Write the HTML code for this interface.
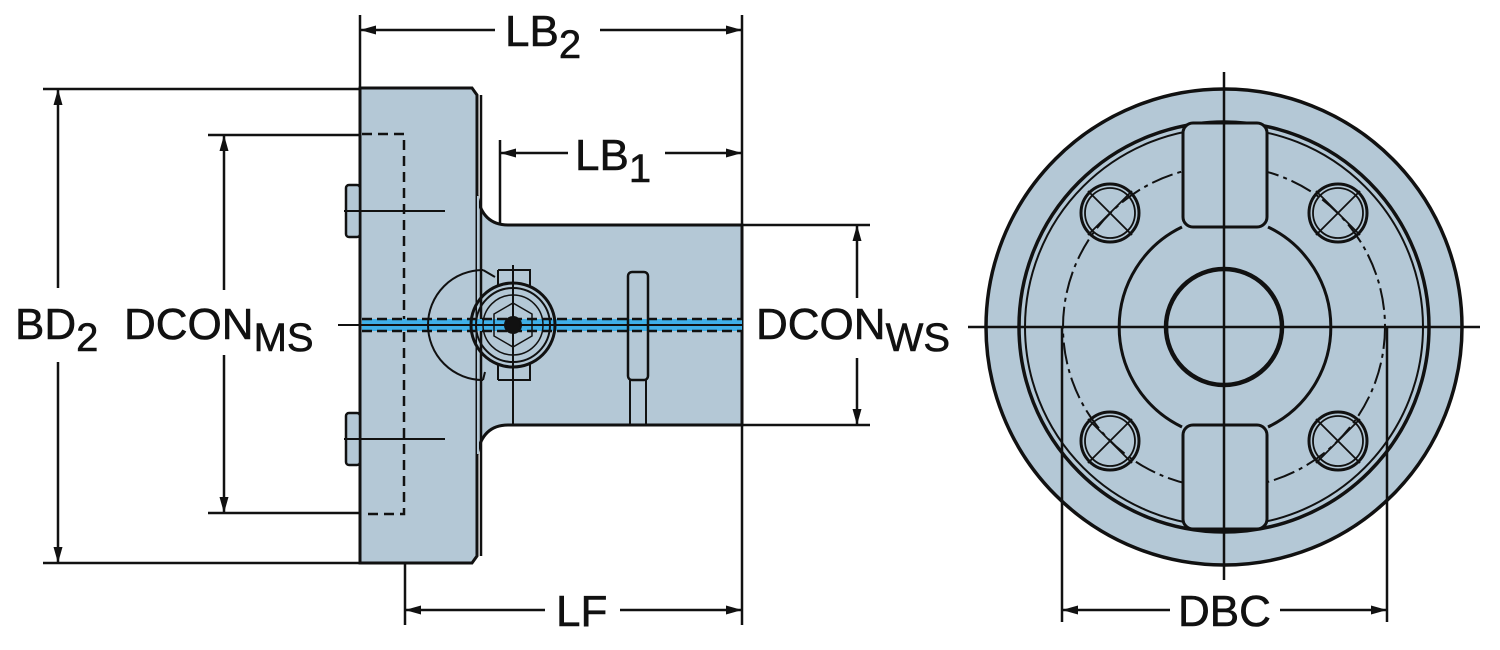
<!DOCTYPE html>
<html><head><meta charset="utf-8"><style>html,body{margin:0;padding:0;background:#fff}svg{display:block}</style></head>
<body>
<svg width="1500" height="650" viewBox="0 0 1500 650" xmlns="http://www.w3.org/2000/svg" font-family="Liberation Sans, sans-serif">
<defs>
<marker id="a" markerWidth="16" markerHeight="9" refX="16" refY="4.5" orient="auto-start-reverse" markerUnits="userSpaceOnUse"><path d="M0,0 L16,4.5 L0,9 z" fill="#111"/></marker>
</defs>
<g stroke="#111" stroke-width="2.5" fill="none">
<line x1="360" y1="15" x2="360" y2="88"/>
<line x1="742" y1="15" x2="742" y2="625"/>
<line x1="43" y1="89" x2="360" y2="89"/>
<line x1="43" y1="563" x2="360" y2="563"/>
<line x1="208" y1="135" x2="360" y2="135"/>
<line x1="208" y1="513" x2="360" y2="513"/>
<line x1="500" y1="140" x2="500" y2="225"/>
<line x1="742" y1="225" x2="870" y2="225"/>
<line x1="742" y1="425" x2="870" y2="425"/>
<line x1="405" y1="520" x2="405" y2="625"/>
</g>
<path d="M360,88 L472,88 L477,95 L477,556 L472,563 L360,563 Z" fill="#b4c8d6" stroke="#111" stroke-width="3"/>
<path d="M477,195 Q482,225 508,225 L742,225 L742,425 L508,425 Q482,425 477,455 Z" fill="#b4c8d6" stroke="#111" stroke-width="3"/>
<line x1="478" y1="196" x2="478" y2="454" stroke="#b4c8d6" stroke-width="2"/>
<line x1="481" y1="95" x2="481" y2="556" stroke="#111" stroke-width="2.5"/>
<rect x="346" y="185" width="14" height="52" rx="3" fill="#b4c8d6" stroke="#111" stroke-width="2.5"/>
<rect x="346" y="413" width="14" height="52" rx="3" fill="#b4c8d6" stroke="#111" stroke-width="2.5"/>
<line x1="344" y1="211" x2="445" y2="211" stroke="#111" stroke-width="2"/>
<line x1="344" y1="439" x2="445" y2="439" stroke="#111" stroke-width="2"/>
<path d="M362,134 L404,134 L404,514 L362,514" fill="none" stroke="#111" stroke-width="2.5" stroke-dasharray="10,6"/>
<rect x="362" y="319" width="380" height="12" fill="#3fb0e8"/>
<line x1="362" y1="319" x2="742" y2="319" stroke="#111" stroke-width="2.5" stroke-dasharray="10,5"/>
<line x1="362" y1="331" x2="742" y2="331" stroke="#111" stroke-width="2.5" stroke-dasharray="10,5"/>
<line x1="338" y1="325" x2="742" y2="325" stroke="#111" stroke-width="2"/>
<g fill="none" stroke="#111" stroke-width="2">
<path d="M483,270 A55,55 0 0 0 483,380" stroke-width="2"/>
<path d="M483,270 L495,277 M483,380 L485,372" stroke-width="2"/>
<circle cx="513" cy="325" r="42" stroke-width="3"/>
<circle cx="513" cy="325" r="37"/>
<circle cx="513" cy="325" r="30" stroke-width="1.5"/>
<polygon points="513,303 532,314 532,336 513,347 494,336 494,314" stroke-width="1.5"/>
<circle cx="513" cy="325" r="8" fill="#111"/>
<path d="M498,270 L530,270 L530,286 M498,270 L498,286" stroke-width="2"/>
<path d="M498,380 L530,380 L530,364 M498,380 L498,364" stroke-width="2"/>
<line x1="513" y1="265" x2="513" y2="425" stroke-width="2"/>
<rect x="628" y="272" width="20" height="108" rx="4" stroke-width="2.5"/>
<line x1="630" y1="380" x2="630" y2="425"/>
<line x1="646" y1="380" x2="646" y2="425"/>
</g>
<g stroke="#111" stroke-width="2.5">
<line x1="360" y1="30" x2="495" y2="30" marker-start="url(#a)"/>
<line x1="600" y1="30" x2="742" y2="30" marker-end="url(#a)"/>
<line x1="500" y1="153" x2="568" y2="153" marker-start="url(#a)"/>
<line x1="665" y1="153" x2="742" y2="153" marker-end="url(#a)"/>
<line x1="58" y1="89" x2="58" y2="288" marker-start="url(#a)"/>
<line x1="58" y1="362" x2="58" y2="563" marker-end="url(#a)"/>
<line x1="224" y1="135" x2="224" y2="290" marker-start="url(#a)"/>
<line x1="224" y1="355" x2="224" y2="513" marker-end="url(#a)"/>
<line x1="857" y1="225" x2="857" y2="298" marker-start="url(#a)"/>
<line x1="857" y1="358" x2="857" y2="425" marker-end="url(#a)"/>
<line x1="405" y1="610" x2="545" y2="610" marker-start="url(#a)"/>
<line x1="620" y1="610" x2="742" y2="610" marker-end="url(#a)"/>
<line x1="1062" y1="610" x2="1170" y2="610" marker-start="url(#a)"/>
<line x1="1280" y1="610" x2="1387" y2="610" marker-end="url(#a)"/>
</g>
<g fill="#111" font-size="44" stroke="#111" stroke-width="0.6">
<text x="505" y="46">LB<tspan font-size="40" dy="12">2</tspan></text>
<text x="575" y="170">LB<tspan font-size="40" dy="12">1</tspan></text>
<text x="15" y="339">BD<tspan font-size="40" dy="12">2</tspan></text>
<text x="124" y="339">DCON<tspan font-size="40" dy="12">MS</tspan></text>
<text x="756" y="339">DCON<tspan font-size="40" dy="12">WS</tspan></text>
<text x="556" y="626">LF</text>
<text x="1178" y="626">DBC</text>
</g>
<g stroke="#111" fill="none">
<circle cx="1224" cy="327" r="238" fill="#b4c8d6" stroke-width="3.5"/>
<circle cx="1224" cy="327" r="205" stroke-width="3.5"/>
<circle cx="1224" cy="327" r="199" stroke-width="2"/>
<circle cx="1224" cy="327" r="161" stroke-width="2" stroke-dasharray="22,5,4,5"/>
<path d="M1182,227 A111,111 0 0 0 1182,427 M1268,227 A111,111 0 0 1 1268,427" stroke-width="3"/>
<circle cx="1224" cy="327" r="58" stroke-width="4.5"/>
<rect x="1183" y="123" width="84" height="104" rx="10" fill="#b4c8d6" stroke-width="3"/>
<rect x="1183" y="425" width="84" height="104" rx="10" fill="#b4c8d6" stroke-width="3"/>
<g stroke-width="1.8">
<circle cx="1110" cy="213" r="29" stroke-width="3"/><circle cx="1110" cy="213" r="25"/>
<circle cx="1338" cy="213" r="29" stroke-width="3"/><circle cx="1338" cy="213" r="25"/>
<circle cx="1110" cy="441" r="29" stroke-width="3"/><circle cx="1110" cy="441" r="25"/>
<circle cx="1338" cy="441" r="29" stroke-width="3"/><circle cx="1338" cy="441" r="25"/>
<path d="M1088,191 L1132,235 M1132,191 L1088,235 M1316,191 L1360,235 M1360,191 L1316,235 M1088,419 L1132,463 M1132,419 L1088,463 M1316,419 L1360,463 M1360,419 L1316,463"/>
</g>
<line x1="968" y1="327" x2="1480" y2="327" stroke-width="2.5"/>
<line x1="1224" y1="72" x2="1224" y2="580" stroke-width="2.5"/>
<line x1="1062" y1="327" x2="1062" y2="622" stroke-width="2.5"/>
<line x1="1387" y1="327" x2="1387" y2="622" stroke-width="2.5"/>
</g>
</svg>
</body></html>
